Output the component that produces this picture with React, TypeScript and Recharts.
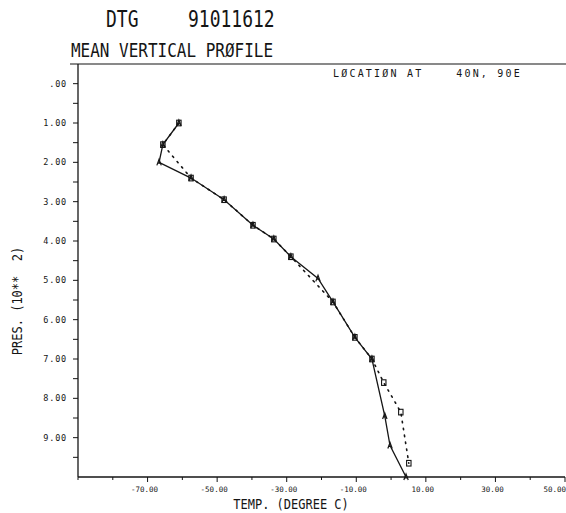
import React from "react";
import { Scatter, ScatterChart, XAxis, YAxis } from "recharts";

// pressure in units of 10**2 mb, temperature in degree C
const solidPres = [1.0, 1.55, 2.0, 2.4, 2.95, 3.6, 3.95, 4.4, 4.95, 5.55, 6.45, 7.0, 8.45, 9.2, 10.0];
const solidTemp = [-61.0, -65.6, -66.7, -57.5, -48.0, -39.7, -33.7, -28.8, -21.0, -16.7, -10.4, -5.5, -1.8, -0.3, 4.3];
const dotPres = [1.0, 1.55, 2.4, 2.95, 3.6, 3.95, 4.4, 5.55, 6.45, 7.0, 7.6, 8.35, 9.65];
const dotTemp = [-61.0, -65.6, -57.5, -48.0, -39.7, -33.7, -28.8, -16.7, -10.4, -5.5, -2.1, 2.8, 5.1];

const presTicks = [0, 0.5, 1, 1.5, 2, 2.5, 3, 3.5, 4, 4.5, 5, 5.5, 6, 6.5, 7, 7.5, 8, 8.5, 9, 9.5];
const tempTicks = [-90, -80, -70, -60, -50, -40, -30, -20, -10, 0, 10, 20, 30, 40, 50];
const tempLabels = [-70, -50, -30, -10, 10, 30, 50];

const INK = "#151515";
const MONO = "'DejaVu Sans Mono', monospace";

const solidData = solidPres.map((p, i) => ({ p, t: solidTemp[i] }));
const dotData = dotPres.map((p, i) => ({ p, t: dotTemp[i] }));

const fmt = (v: number) => (v === 0 ? ".00" : v.toFixed(2));

function YTick(props: any) {
  const { x, y, payload } = props;
  const v = payload.value as number;
  const major = Number.isInteger(v);
  return (
    <g>
      <line x1={x + 3} x2={x + 8} y1={y} y2={y} stroke={INK} strokeWidth={1} />
      {major && (
        <text
          x={x - 3}
          y={y + 3}
          textAnchor="end"
          fontSize={8.5}
          letterSpacing={0.8}
          fontFamily={MONO}
          fill={INK}
        >
          {fmt(v)}
        </text>
      )}
    </g>
  );
}

function XTick(props: any) {
  const { x, y, payload } = props;
  const v = payload.value as number;
  const major = tempLabels.includes(v);
  const anchor = v === 50 ? "end" : "middle";
  return (
    <g>
      <line x1={x} x2={x} y1={y - 8} y2={y - (major ? 3 : 5)} stroke={INK} strokeWidth={1} />
      {major && (
        <text
          x={v === 50 ? x + 1 : x - 3}
          y={y + 6.5}
          textAnchor={anchor}
          fontSize={7.5}
          fontFamily={MONO}
          fill={INK}
        >
          {v.toFixed(2)}
        </text>
      )}
    </g>
  );
}

function LetterMark(props: any) {
  const { cx, cy } = props;
  if (cx == null || cy == null) return null;
  return (
    <path
      d={`M${cx - 2.2},${cy + 3} L${cx},${cy - 3} L${cx + 2.2},${cy + 3} M${cx - 1.3},${cy + 0.8} L${cx + 1.3},${cy + 0.8}`}
      stroke={INK}
      strokeWidth={1.2}
      fill="none"
    />
  );
}

function SquareMark(props: any) {
  const { cx, cy } = props;
  if (cx == null || cy == null) return null;
  return <rect x={cx - 2.2} y={cy - 2.8} width={4.4} height={5.6} stroke={INK} strokeWidth={1.1} fill="none" />;
}

const pre = { whiteSpace: "pre" as const };

export default function App() {
  return (
    <div style={{ position: "absolute", left: 0, top: 0, width: 566, height: 513, background: "#fff" }}>
      <ScatterChart width={566} height={513} margin={{ top: 64, right: 1, bottom: 0, left: 0 }}>
        <XAxis
          type="number"
          dataKey="t"
          domain={[-90, 50]}
          ticks={tempTicks}
          interval={0}
          height={36}
          tickLine={false}
          axisLine={{ stroke: INK, strokeWidth: 1.3 }}
          tick={<XTick />}
        />
        <YAxis
          type="number"
          dataKey="p"
          domain={[-0.5, 10]}
          reversed
          ticks={presTicks}
          interval={0}
          width={78}
          tickLine={false}
          axisLine={{ stroke: INK, strokeWidth: 1.3 }}
          tick={<YTick />}
        />
        <Scatter
          data={dotData}
          fill={INK}
          line={{ stroke: INK, strokeWidth: 1.6, strokeDasharray: "1.5 5.5", strokeLinecap: "round" }}
          lineType="joint"
          shape={<SquareMark />}
          isAnimationActive={false}
        />
        <Scatter
          data={solidData}
          fill={INK}
          line={{ stroke: INK, strokeWidth: 1.3 }}
          lineType="joint"
          shape={<LetterMark />}
          isAnimationActive={false}
        />
      </ScatterChart>
      <svg
        width={566}
        height={513}
        style={{ position: "absolute", left: 0, top: 0, pointerEvents: "none" }}
      >
        <line x1={70} x2={566} y1={64} y2={64} stroke={INK} strokeWidth={1.2} />
        <text transform="translate(106,27) scale(1,1.25)" fontSize={18} fontFamily={MONO} fill={INK}>
          DTG
        </text>
        <text transform="translate(188,27) scale(1,1.25)" fontSize={18} fontFamily={MONO} fill={INK}>
          91011612
        </text>
        <text transform="translate(71,57) scale(1,1.2)" fontSize={16} fontFamily={MONO} fill={INK}>
          MEAN VERTICAL PRØFILE
        </text>
        <text
          transform="translate(333,77) scale(1,1.1)"
          fontSize={10}
          letterSpacing={2.2}
          fontFamily={MONO}
          fill={INK}
          style={pre}
        >
          LØCATIØN AT    40N, 90E
        </text>
        <text
          transform="translate(291,509) scale(1,1.15)"
          textAnchor="middle"
          fontSize={12}
          fontFamily={MONO}
          fill={INK}
          style={pre}
        >
          TEMP. (DEGREE C)
        </text>
        <text
          transform="translate(22,301) rotate(-90) scale(1,1.1)"
          textAnchor="middle"
          fontSize={12}
          fontFamily={MONO}
          fill={INK}
          style={pre}
        >
          PRES. (10**  2)
        </text>
      </svg>
    </div>
  );
}
